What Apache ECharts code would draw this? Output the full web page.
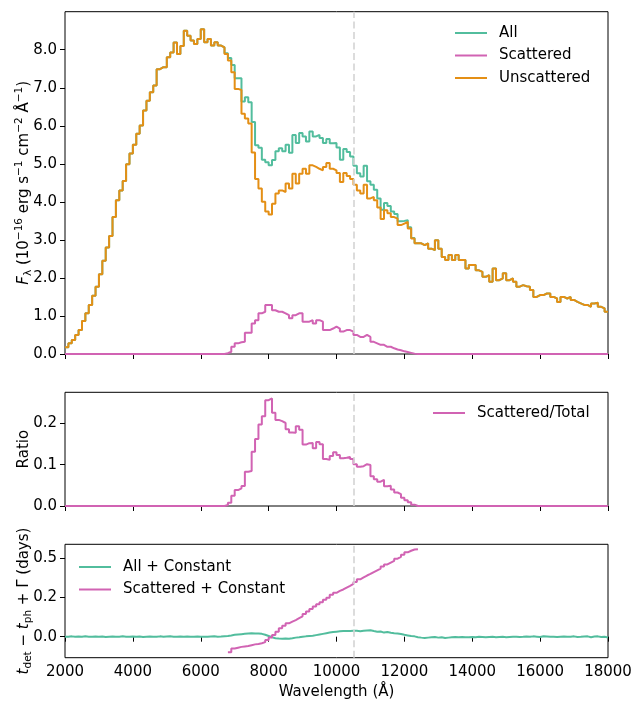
<!DOCTYPE html>
<html>
<head>
<meta charset="utf-8">
<script src="https://cdn.jsdelivr.net/npm/echarts@6/dist/echarts.min.js"></script>
<style>
  html, body { margin: 0; padding: 0; background: #ffffff; }
  #chart { width: 634px; height: 701px; }
</style>
</head>
<body>
<div id="chart"></div>
<script>
// Spectral bins: 100 Å wide, left edges from 2000 Å to 17900 Å
const binStart = 2000;
const binWidth = 100;

// Unscattered flux per bin (1e-16 erg s^-1 cm^-2 Å^-1), one row per 1000 Å
const unscatteredFlux = [
  0.18, 0.28, 0.37, 0.50, 0.63, 0.87, 1.07, 1.29, 1.53, 1.77,
  2.10, 2.45, 2.80, 3.10, 3.60, 4.04, 4.30, 4.55, 4.99, 5.27,
  5.50, 5.79, 6.01, 6.40, 6.66, 6.88, 7.06, 7.49, 7.54, 7.54,
  7.80, 7.93, 8.19, 7.89, 8.10, 8.50, 8.37, 8.24, 8.15, 8.28,
  8.54, 8.20, 8.28, 8.11, 8.20, 8.11, 8.06, 7.89, 7.72, 7.41,
  6.97, 6.94, 6.32, 6.19, 6.06, 5.30, 4.60, 4.35, 4.00, 3.75,
  3.67, 3.95, 4.22, 4.30, 4.26, 4.48, 4.35, 4.74, 4.48, 4.74,
  4.87, 4.74, 4.96, 4.92, 4.87, 4.83, 4.92, 5.02, 4.87, 4.83,
  4.76, 4.52, 4.76, 4.68, 4.60, 4.45, 4.30, 4.22, 4.45, 4.09,
  4.13, 4.04, 3.85, 3.55, 3.78, 3.70, 3.60, 3.56, 3.39, 3.43,
  3.47, 3.30, 3.04, 2.91, 2.91, 2.86, 2.91, 2.77, 2.73, 2.99,
  2.77, 2.55, 2.47, 2.60, 2.47, 2.60, 2.47, 2.47, 2.25, 2.34,
  2.34, 2.20, 2.16, 2.03, 2.07, 1.90, 2.25, 1.94, 1.99, 2.12,
  1.94, 1.99, 1.90, 1.77, 1.81, 1.78, 1.77, 1.68, 1.50, 1.55,
  1.55, 1.59, 1.59, 1.50, 1.46, 1.37, 1.50, 1.46, 1.50, 1.42,
  1.37, 1.33, 1.29, 1.29, 1.24, 1.33, 1.35, 1.24, 1.20, 1.11
];

// Scattered flux, non-zero only from 6700 Å to 12300 Å (zero elsewhere)
const scatteredStart = 6700;
const scatteredFlux = [
  0.02, 0.06, 0.19, 0.28, 0.31, 0.32, 0.56, 0.56, 0.80, 0.89,
  1.07, 1.11, 1.29, 1.29, 1.15, 1.11, 1.11, 1.07, 1.02, 0.94,
  1.02, 1.07, 1.07, 0.85, 0.85, 0.89, 0.80, 0.89, 0.85, 0.63,
  0.63, 0.67, 0.72, 0.67, 0.59, 0.63, 0.63, 0.59, 0.50, 0.45,
  0.45, 0.50, 0.45, 0.32, 0.28, 0.24, 0.24, 0.19, 0.19, 0.15,
  0.12, 0.10, 0.07, 0.05, 0.03, 0.01
];

// Detection-time offsets (days), all photons: one value per bin
const delayAll = [
  0.000, 0.002, -0.001, 0.001, 0.000, 0.002, 0.000, -0.001, 0.001, 0.000,
  0.001, -0.002, 0.000, 0.001, -0.001, 0.000, 0.002, 0.000, -0.001, 0.001,
  0.000, 0.001, -0.002, 0.000, 0.001, 0.000, -0.001, 0.002, 0.000, 0.001,
  0.002, 0.000, -0.001, 0.001, 0.000, 0.001, -0.001, 0.000, 0.001, 0.000,
  -0.001, 0.000, 0.001, 0.002, 0.000, 0.001, 0.003, 0.005, 0.008, 0.012,
  0.014, 0.016, 0.018, 0.020, 0.022, 0.020, 0.021, 0.018, 0.012, 0.004,
  -0.004, -0.010, -0.012, -0.013, -0.011, -0.013, -0.010, -0.006, -0.004, -0.001,
  0.002, 0.004, 0.006, 0.010, 0.014, 0.018, 0.022, 0.026, 0.030, 0.032,
  0.034, 0.036, 0.036, 0.037, 0.038, 0.038, 0.035, 0.038, 0.040, 0.041,
  0.036, 0.032, 0.033, 0.026, 0.030, 0.025, 0.022, 0.020, 0.017, 0.012,
  0.008, 0.004, 0.002, -0.003, -0.006, -0.008, -0.006, -0.004, -0.002, -0.006,
  -0.004, -0.008, -0.006, -0.004, -0.002, -0.003, -0.002, -0.004, -0.003, -0.002,
  -0.004, -0.001, -0.002, -0.004, -0.002, -0.001, -0.003, -0.002, -0.001, -0.003,
  -0.002, -0.001, 0.000, -0.002, -0.001, 0.001, -0.001, 0.002, 0.000, -0.002,
  0.003, 0.001, -0.001, 0.000, -0.002, 0.000, 0.001, -0.001, 0.000, 0.002,
  -0.002, -0.001, 0.001, 0.002, -0.003, 0.001, 0.002, -0.002, -0.001, -0.005
];

// Detection-time offsets (days), scattered photons: 6800 Å to 12400 Å
const delayScatteredStart = 6800;
const delayScattered = [
  -0.100, -0.075, -0.070, -0.065, -0.062, -0.059, -0.054, -0.049, -0.046, -0.042,
  -0.035, -0.021, -0.005, 0.011, 0.032, 0.053, 0.069, 0.085, 0.096, 0.106,
  0.118, 0.130, 0.145, 0.160, 0.176, 0.193, 0.207, 0.220, 0.236, 0.249,
  0.267, 0.280, 0.292, 0.301, 0.313, 0.324, 0.336, 0.349, 0.366, 0.378,
  0.390, 0.400, 0.412, 0.423, 0.434, 0.447, 0.461, 0.472, 0.483, 0.497,
  0.509, 0.523, 0.538, 0.548, 0.556, 0.558
];

// Axis ticks
const wavelengthMin = 2000, wavelengthMax = 18000, wavelengthStep = 2000;
const fluxTicks = [0, 1, 2, 3, 4, 5, 6, 7, 8];
const ratioTicks = [0, 0.1, 0.2];
const delayTicks = [0, 0.25, 0.5];
const delayTickLabels = ['0.0', '0.2', '0.5'];
const markerWavelength = 10500;

// Colours and text
const cAll = '#52bd9d';
const cScat = '#d163b3';
const cUnscat = '#e48f15';
const FONT = 'DejaVu Sans';
const FS = 15;

// Full-length scattered array and derived totals
const scatOffset = (scatteredStart - binStart) / binWidth;
const scatteredFull = unscatteredFlux.map((_, i) =>
  (i >= scatOffset && i < scatOffset + scatteredFlux.length) ? scatteredFlux[i - scatOffset] : 0);
const allFlux = unscatteredFlux.map((u, i) => u + scatteredFull[i]);
const ratio = scatteredFull.map((s, i) => s / allFlux[i]);

// Histogram outline: points at left bin edges, closed at the last right edge
function histogram(edge0, values) {
  const pts = values.map((v, i) => [edge0 + i * binWidth, v]);
  pts.push([edge0 + values.length * binWidth, values[values.length - 1]]);
  return pts;
}

const chart = echarts.init(document.getElementById('chart'), null, { renderer: 'canvas' });

const grids = [
  { left: 65, top: 11.7, width: 543, height: 342.3 },
  { left: 65, top: 392.3, width: 543, height: 113.7 },
  { left: 65, top: 544.3, width: 543, height: 113.4 }
].map(g => Object.assign({
  show: true, borderColor: '#000', borderWidth: 1, backgroundColor: 'transparent',
  containLabel: false, outerBoundsMode: 'none'
}, g));

function xAxis(idx, withLabels) {
  return {
    type: 'value', gridIndex: idx, min: wavelengthMin, max: wavelengthMax, interval: wavelengthStep,
    axisLine: { show: false },
    splitLine: { show: false },
    axisTick: { show: true, length: 5, lineStyle: { color: '#000', width: 1 } },
    axisLabel: { show: withLabels, margin: 7, fontSize: FS, color: '#000', fontFamily: FONT,
      formatter: v => String(v) },
    name: withLabels ? 'Wavelength (Å)' : '',
    nameLocation: 'middle', nameGap: 27, nameMoveOverlap: false,
    nameTextStyle: { fontSize: FS, color: '#000', fontFamily: FONT }
  };
}

const supStyle = { fontSize: 10.5, fontFamily: FONT, color: '#000', verticalAlign: 'top', lineHeight: 10 };
const subStyle = { fontSize: 10.5, fontFamily: FONT, color: '#000', verticalAlign: 'bottom', lineHeight: 10 };
const itStyle = { fontSize: FS, fontFamily: FONT, color: '#000', fontStyle: 'italic' };

function yAxis(idx, min, max, ticks, fmt, name) {
  return {
    type: 'value', gridIndex: idx, min: min, max: max,
    axisLine: { show: false },
    splitLine: { show: false },
    axisTick: { show: true, length: 5, customValues: ticks, lineStyle: { color: '#000', width: 1 } },
    axisLabel: { customValues: ticks, formatter: fmt, margin: 8, fontSize: FS, color: '#000', fontFamily: FONT },
    name: name, nameLocation: 'middle', nameRotate: 90, nameGap: 31, nameMoveOverlap: false,
    nameTextStyle: {
      fontSize: FS, color: '#000', fontFamily: FONT, lineHeight: 20,
      rich: { sup: supStyle, sub: subStyle, it: itStyle }
    }
  };
}

const dashed = {
  silent: true, symbol: 'none', label: { show: false },
  lineStyle: { color: '#d4d4d4', type: [7, 3.5], width: 1.6 },
  data: [{ xAxis: markerWavelength }]
};

function stepSeries(name, idx, data, color, mark) {
  const s = {
    name: name, type: 'line', xAxisIndex: idx, yAxisIndex: idx, data: data,
    step: 'end', showSymbol: false, symbol: 'none', silent: true, animation: false,
    color: color, lineStyle: { color: color, width: 2 }
  };
  if (mark) s.markLine = dashed;
  return s;
}

const legendBase = {
  orient: 'vertical', icon: 'rect', itemWidth: 32, itemHeight: 2, itemGap: 5.5,
  padding: 0, selectedMode: false,
  textStyle: { fontSize: FS, color: '#000', fontFamily: FONT, lineHeight: 17, padding: [0, 0, 0, 7] }
};

chart.setOption({
  animation: false,
  backgroundColor: '#ffffff',
  grid: grids,
  xAxis: [xAxis(0, false), xAxis(1, false), xAxis(2, true)],
  yAxis: [
    yAxis(0, 0, 9.0, fluxTicks, v => v.toFixed(1),
      '{it|F}{sub|λ} (10{sup|−16} erg s{sup|−1} cm{sup|−2} Å{sup|−1})'),
    yAxis(1, 0, 0.275, ratioTicks, v => v.toFixed(1), 'Ratio'),
    yAxis(2, -0.134, 0.589, delayTicks, v => delayTickLabels[delayTicks.indexOf(v)],
      '{it|t}{sub|det} − {it|t}{sub|ph} + Γ (days)')
  ],
  legend: [
    Object.assign({ left: 455, top: 24.5, data: ['All', 'Scattered', 'Unscattered'] }, legendBase),
    Object.assign({ left: 433, top: 404.5, data: ['Scattered/Total'] }, legendBase),
    Object.assign({ left: 79, top: 558.5, data: ['All + Constant', 'Scattered + Constant'] }, legendBase)
  ],
  series: [
    stepSeries('All', 0, histogram(binStart, allFlux), cAll, true),
    stepSeries('Scattered', 0, histogram(binStart, scatteredFull), cScat, false),
    stepSeries('Unscattered', 0, histogram(binStart, unscatteredFlux), cUnscat, false),
    stepSeries('Scattered/Total', 1, histogram(binStart, ratio), cScat, true),
    stepSeries('All + Constant', 2, histogram(binStart, delayAll), cAll, true),
    stepSeries('Scattered + Constant', 2, histogram(delayScatteredStart, delayScattered), cScat, false)
  ]
});
</script>
</body>
</html>
